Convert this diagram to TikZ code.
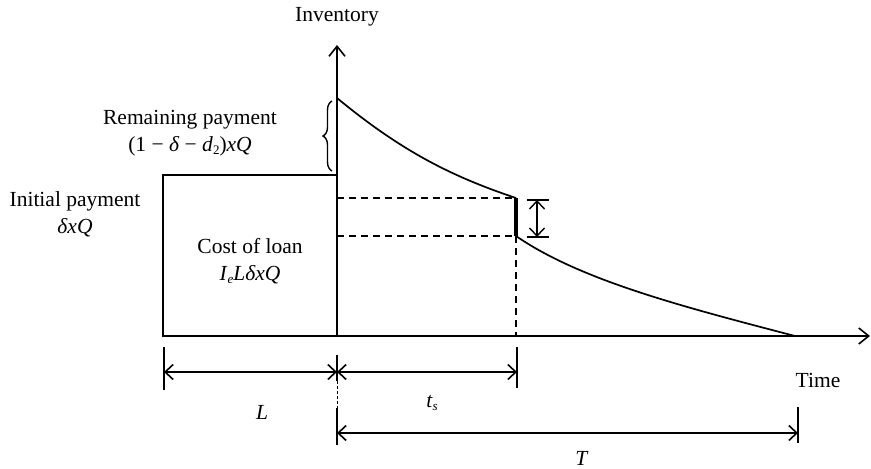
\documentclass[tikz,border=0pt]{standalone}
\usepackage{fontspec}
\setmainfont{Liberation Serif}
\usetikzlibrary{arrows.meta,decorations.pathreplacing}
\newcommand\mysub[1]{\raisebox{-0.35ex}{\fontsize{13}{13}\selectfont #1}}
\begin{document}
\begin{tikzpicture}[x=1pt,y=-1pt,
  lbl/.style={font=\fontsize{21.5}{27}\selectfont, align=center, inner sep=0pt},
  axis/.style={line width=2pt, -{Straight Barb[length=10pt,width=16pt,line width=1.6pt]}},
  curve/.style={line width=1.7pt},
  dashline/.style={line width=1.4pt, dash pattern=on 7pt off 5pt},
  dim/.style={line width=2pt, {Straight Barb[length=8pt,width=15pt,line width=1.6pt]}-{Straight Barb[length=8pt,width=15pt,line width=1.6pt]}},
  tick/.style={line width=1.3pt}]
\useasboundingbox (0,0) rectangle (871,469);
% key points
\coordinate (O) at (337,336);
\coordinate (Ytop) at (337,45);
\coordinate (Xend) at (870,336);
\coordinate (P0) at (337,98);
\coordinate (P1) at (516,198);
\coordinate (P2) at (516,236);
\coordinate (P3) at (795,336);
\coordinate (P1b) at (516,336);
\coordinate (D1) at (337,198);
\coordinate (D2) at (337,236);
% box
\draw[line width=1.4pt] (163,175) rectangle (337,336);
% axes
\draw[axis] (O) -- (Ytop);
\draw[axis] (O) -- (Xend);
% curves
\draw[curve] (P0) .. controls (400,150) and (450,176) .. (P1);
\draw[line width=3.5pt] (P1) -- (P2);
\draw[curve] (P2) .. controls (580,280) and (680,306) .. (P3);
% dashed lines
\draw[dashline] (D1) -- (P1);
\draw[dashline] (D2) -- (P2);
\draw[dashline] (P2) -- (P1b);
% brace
\draw[line width=1.4pt, decorate, decoration={brace, amplitude=9pt}] (332,171) -- (332,101);
% double arrow at drop
\coordinate (A1) at (537,200);
\coordinate (A2) at (537,237);
\draw[tick] (527,200) -- (549,200);
\draw[tick] (527,237) -- (549,237);
\draw[line width=1.4pt, {Straight Barb[length=8pt,width=15pt,line width=1.4pt]}-{Straight Barb[length=8pt,width=15pt,line width=1.4pt]}] (A1) -- (A2);
% dimension ticks
\coordinate (Lt) at (164,347); \coordinate (Lb) at (164,390);
\coordinate (Mt) at (337,355); \coordinate (Mm1) at (337,381); \coordinate (Mm2) at (337,408); \coordinate (Mb) at (337,445);
\coordinate (St) at (517,347); \coordinate (Sb) at (517,388);
\coordinate (Tt) at (798,407); \coordinate (Tb) at (798,443);
\draw[tick] (Lt) -- (Lb);
\draw[tick] (Mt) -- (Mm1);
\draw[line width=0.9pt, dash pattern=on 3pt off 2pt] (Mm1) -- (Mm2);
\draw[tick] (Mm2) -- (Mb);
\draw[tick] (St) -- (Sb);
\draw[tick] (Tt) -- (Tb);
% dimension arrows
\coordinate (L1) at (164,372); \coordinate (L2) at (337,372); \coordinate (S2) at (517,372);
\coordinate (T1) at (337,433); \coordinate (T2) at (798,433);
\draw[dim] (L1) -- (L2);
\draw[dim] (L2) -- (S2);
\draw[dim] (T1) -- (T2);
% labels
\node[lbl] (inv) at (337,17) {Inventory};
\node[lbl] (rem) at (190,133) {Remaining payment\\(1 − \textit{δ} − \textit{d}\mysub{2})\textit{xQ}};
\node[lbl] (ini) at (75,214) {Initial payment\\\textit{δxQ}};
\node[lbl] (col) at (250,261) {Cost of loan\\\textit{I}\mysub{\textit{e}}\textit{LδxQ}};
\node[lbl] (time) at (818,380) {Time};
\node[lbl] (Llab) at (262,412) {\textit{L}};
\node[lbl] (tslab) at (432,403) {\textit{t}\mysub{\textit{s}}};
\node[lbl] (Tlab) at (582,458) {\textit{T}};
\end{tikzpicture}
\end{document}
